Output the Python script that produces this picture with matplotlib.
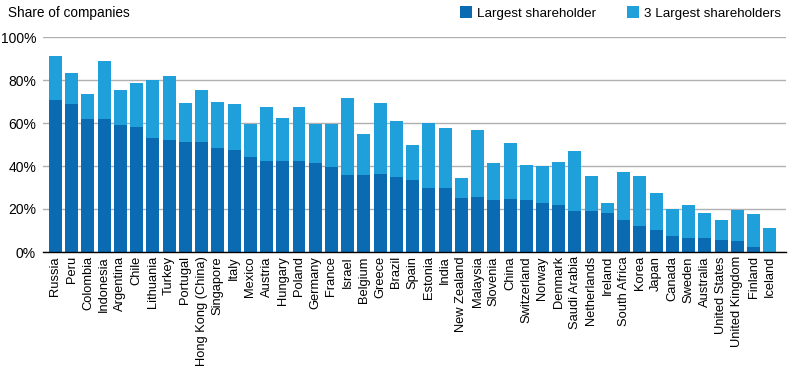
import numpy as np
import matplotlib
matplotlib.use('Agg')
import matplotlib.pyplot as plt
from matplotlib.ticker import FuncFormatter

plt.rcParams['font.family'] = ['Liberation Sans', 'DejaVu Sans']

# ── Data ──────────────────────────────────────────────────────────────────────
countries = ['Russia', 'Peru', 'Colombia', 'Indonesia', 'Argentina', 'Chile',
             'Lithuania', 'Turkey', 'Portugal', 'Hong Kong (China)', 'Singapore',
             'Italy', 'Mexico', 'Austria', 'Hungary', 'Poland', 'Germany',
             'France', 'Israel', 'Belgium', 'Greece', 'Brazil', 'Spain',
             'Estonia', 'India', 'New Zealand', 'Malaysia', 'Slovenia', 'China',
             'Switzerland', 'Norway', 'Denmark', 'Saudi Arabia', 'Netherlands',
             'Ireland', 'South Africa', 'Korea', 'Japan', 'Canada', 'Sweden',
             'Australia', 'United States', 'United Kingdom', 'Finland', 'Iceland']

largest = [70.8, 68.9, 62.0, 62.0, 59.2, 58.2, 53.1, 52.2, 51.2, 51.2, 48.4,
           47.5, 44.3, 42.4, 42.4, 42.4, 41.5, 39.6, 35.9, 35.9, 36.3, 34.9,
           33.5, 29.8, 29.8, 25.2, 25.6, 24.2, 24.7, 24.2, 22.8, 21.9, 19.1,
           19.1, 18.2, 14.9, 12.1, 10.2, 7.5, 6.5, 6.5, 5.6, 5.1, 2.3, 0.0]

top3 = [91.3, 83.4, 73.6, 89.0, 75.5, 78.7, 80.1, 82.0, 69.4, 75.5, 69.9,
        68.9, 59.6, 67.5, 62.4, 67.5, 59.6, 59.6, 71.7, 55.0, 69.4, 61.0,
        49.8, 60.1, 57.8, 34.5, 56.8, 41.5, 50.8, 40.5, 40.1, 41.9, 47.0,
        35.4, 22.8, 37.3, 35.4, 27.5, 20.0, 21.9, 18.2, 14.9, 19.6, 17.7, 11.2]

# ── Plot ──────────────────────────────────────────────────────────────────────
dark = '#0A6AB2'
light = '#20A0DA'
fs = 9.3

fig = plt.figure(figsize=(7.89, 3.70), dpi=100)
ax = fig.add_axes([43 / 789, 118 / 370, 743 / 789, 215 / 370])

x = np.arange(len(countries))
ax.bar(x, top3, 0.8, color=light, label='3 Largest shareholders', zorder=3)
ax.bar(x, largest, 0.8, color=dark, label='Largest shareholder', zorder=4)

ax.set_xlim(-0.77, len(countries) - 1 + 1.0)
ax.set_ylim(0, 100)
ax.set_yticks(range(0, 101, 20))
ax.yaxis.set_major_formatter(FuncFormatter(lambda v, _: f'{int(v)}%'))
ax.set_xticks(x)
ax.set_xticklabels(countries, rotation=90, fontsize=fs)
ax.tick_params(axis='y', labelsize=fs + 0.7, length=0, pad=5)
ax.tick_params(axis='x', length=0, pad=3)
ax.grid(axis='y', color='#b0b0b0', linewidth=1, zorder=0)
for s in ['top', 'right', 'left']:
    ax.spines[s].set_visible(False)
ax.spines['bottom'].set_color('black')
ax.spines['bottom'].set_linewidth(1)
ax.spines['bottom'].set_zorder(5)

fig.text(8 / 789, 1 - 13 / 370, 'Share of companies', fontsize=fs + 0.5, va='center', ha='left')

handles, labels = ax.get_legend_handles_labels()
fig.legend(handles[::-1], labels[::-1], loc='center right',
           bbox_to_anchor=(1.0, 1 - 13 / 370), ncol=2, frameon=False,
           fontsize=fs + 0.3, handlelength=0.9, handleheight=0.9,
           handletextpad=0.4, columnspacing=2.3, borderaxespad=0.2)

fig.savefig('out.png', dpi=100)
